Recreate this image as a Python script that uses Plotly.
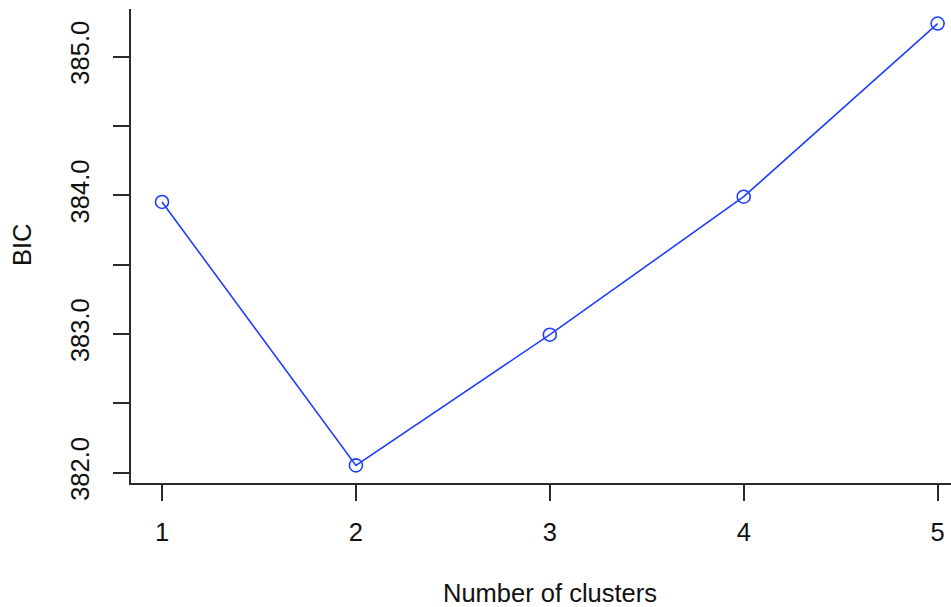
import plotly.graph_objects as go

clusters = [1, 2, 3, 4, 5]
bic = [383.952, 382.053, 382.995, 383.99, 385.238]
y_tickvals = [382.0, 382.5, 383.0, 383.5, 384.0, 384.5, 385.0]
y_ticktext = ["382.0", "", "383.0", "", "384.0", "", "385.0"]
x_tickvals = [1, 2, 3, 4, 5]

FONT = "Liberation Sans, Arial, Helvetica, sans-serif"
AX = "#2b2b2b"
BLUE = "#1f3fff"
FS = 25.5

fig = go.Figure()
fig.add_trace(go.Scatter(
    x=clusters, y=bic, mode="lines+markers",
    line=dict(color=BLUE, width=1.6),
    marker=dict(symbol="circle-open", size=13, color=BLUE, line=dict(width=1.6, color=BLUE)),
    cliponaxis=False, showlegend=False,
))

fig.update_layout(
    width=951, height=607,
    margin=dict(l=131, r=0, t=9, b=124),
    paper_bgcolor="white", plot_bgcolor="white",
    font=dict(family=FONT, size=FS, color="#111"),
    xaxis=dict(
        range=[0.84, 5.069], tickvals=x_tickvals, ticktext=[str(v) for v in x_tickvals],
        showgrid=False, zeroline=False, showline=True, linecolor=AX, linewidth=1.5,
        ticks="outside", ticklen=16, tickwidth=1.5, tickcolor=AX,
        ticklabelstandoff=10, tickfont=dict(size=FS, family=FONT, color="#111"),
    ),
    yaxis=dict(
        range=[381.926, 385.343], tickvals=y_tickvals, ticktext=y_ticktext,
        showgrid=False, zeroline=False, showline=True, linecolor=AX, linewidth=1.5,
        ticks="outside", ticklen=16, tickwidth=1.5, tickcolor=AX,
        tickangle=-90, ticklabelstandoff=14, tickfont=dict(size=FS, family=FONT, color="#111"),
    ),
    annotations=[
        dict(text="Number of clusters", xref="paper", yref="paper", x=0.511, y=-0.232,
             xanchor="center", yanchor="middle", showarrow=False,
             font=dict(size=FS, family=FONT, color="#111")),
        dict(text="BIC", xref="paper", yref="paper", x=-0.1329, y=0.502, textangle=-90,
             xanchor="center", yanchor="middle", showarrow=False,
             font=dict(size=FS, family=FONT, color="#111")),
    ],
)

fig.write_html("out.html")
